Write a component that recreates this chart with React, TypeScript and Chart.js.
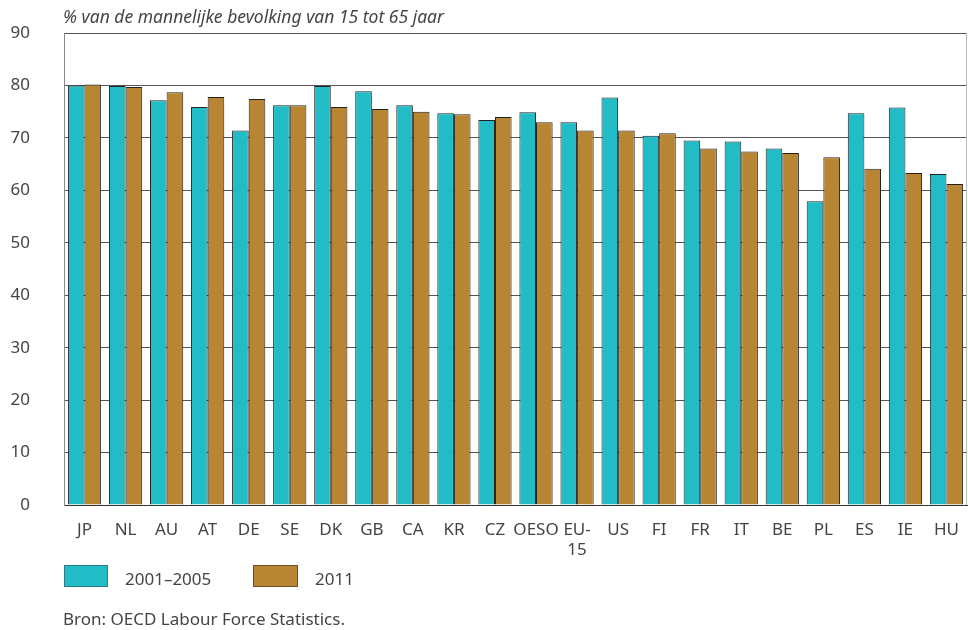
import React, { useEffect, useRef } from "react";
import { Chart, registerables } from "chart.js";

Chart.register(...registerables);

const categories: (string | string[])[] = [
  "JP", "NL", "AU", "AT", "DE", "SE", "DK", "GB", "CA", "KR", "CZ",
  "OESO", ["EU-", "15"], "US", "FI", "FR", "IT", "BE", "PL", "ES", "IE", "HU",
];

const series2001_2005 = [
  80.0, 79.9, 77.2, 75.9, 71.4, 76.2, 79.9, 78.9, 76.2, 74.7, 73.4,
  74.9, 73.0, 77.7, 70.4, 69.5, 69.3, 68.0, 57.9, 74.7, 75.8, 63.1,
];

const series2011 = [
  80.2, 79.7, 78.7, 77.8, 77.4, 76.2, 75.9, 75.5, 75.0, 74.5, 74.0,
  73.0, 71.4, 71.4, 70.9, 68.0, 67.4, 67.1, 66.3, 64.1, 63.3, 61.2,
];

const seriesNames = ["2001–2005", "2011"];
const yTicks = { min: 0, max: 90, step: 10 };

const TEAL = "#21bcc6";
const GOLD = "#b88533";
const FONT = "'Noto Sans', 'Open Sans', sans-serif";

const frame = {
  id: "frame",
  beforeDatasetsDraw(chart: any) {
    const { ctx, chartArea } = chart;
    ctx.save();
    ctx.strokeStyle = "#bbbbbb";
    ctx.lineWidth = 1;
    ctx.beginPath();
    ctx.moveTo(chartArea.right - 0.5, chartArea.top);
    ctx.lineTo(chartArea.right - 0.5, chartArea.bottom);
    ctx.stroke();
    ctx.restore();
  },
};

export default function App() {
  const ref = useRef<HTMLCanvasElement>(null);

  useEffect(() => {
    if (!ref.current) return;
    const chart = new Chart(ref.current, {
      type: "bar",
      data: {
        labels: categories,
        datasets: [
          {
            label: seriesNames[0],
            data: series2001_2005,
            backgroundColor: TEAL,
            borderColor: "#222222",
            borderWidth: 1,
          },
          {
            label: seriesNames[1],
            data: series2011,
            backgroundColor: GOLD,
            borderColor: "#222222",
            borderWidth: 1,
          },
        ],
      },
      plugins: [frame],
      options: {
        responsive: false,
        animation: false,
        layout: { padding: { top: 33, right: 1, left: 0, bottom: 0 } },
        plugins: {
          legend: { display: false },
          tooltip: { enabled: false },
          title: { display: false },
        },
        datasets: { bar: { categoryPercentage: 0.81, barPercentage: 1.0 } },
        scales: {
          x: {
            grid: { display: false },
            border: { display: true, color: "#333333", width: 1 },
            ticks: {
              color: "#444444",
              font: { family: FONT, size: 17 },
              padding: 7,
              maxRotation: 0,
              autoSkip: false,
            },
            afterFit(scale: any) {
              scale.height = 125;
              scale.paddingLeft = 0;
              scale.paddingRight = 0;
            },
          },
          y: {
            min: yTicks.min,
            max: yTicks.max,
            grid: { color: "#555555", lineWidth: 1, drawTicks: false },
            border: { display: true, color: "#888888", width: 1 },
            ticks: {
              stepSize: yTicks.step,
              color: "#444444",
              font: { family: FONT, size: 17 },
              padding: 34,
            },
            afterFit(scale: any) {
              scale.width = 64;
              scale.paddingTop = 0;
              scale.paddingBottom = 0;
            },
          },
        },
      },
    });
    return () => chart.destroy();
  }, []);

  const textStyle: React.CSSProperties = {
    position: "absolute",
    fontFamily: FONT,
    fontSize: 17,
    color: "#444444",
    whiteSpace: "nowrap",
    lineHeight: "20px",
  };

  return (
    <div style={{ position: "absolute", left: 0, top: 0, width: 968, height: 630, background: "#fff" }}>
      <canvas ref={ref} width={968} height={630} style={{ position: "absolute", left: 0, top: 0 }} />
      <div style={{ ...textStyle, left: 63, top: 6, fontStyle: "italic", fontSize: 17.5 }}>
        % van de mannelijke bevolking van 15 tot 65 jaar
      </div>
      <div style={{ position: "absolute", left: 64, top: 565, width: 44, height: 22, background: TEAL, border: "1px solid #2a7f85", boxSizing: "border-box" }} />
      <div style={{ ...textStyle, left: 125, top: 569 }}>{seriesNames[0]}</div>
      <div style={{ position: "absolute", left: 253, top: 565, width: 45, height: 22, background: GOLD, border: "1px solid #6e5020", boxSizing: "border-box" }} />
      <div style={{ ...textStyle, left: 315, top: 569 }}>{seriesNames[1]}</div>
      <div style={{ ...textStyle, left: 63, top: 609 }}>Bron: OECD Labour Force Statistics.</div>
    </div>
  );
}
